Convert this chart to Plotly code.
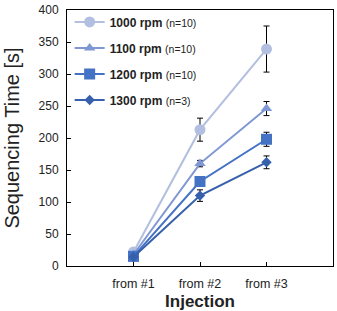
import plotly.graph_objects as go

categories = ["from #1", "from #2", "from #3"]
x_pos = [0, 1, 2]
series_names = ["<b>1000 rpm</b> <span style='font-size:10.5px'>(n=10)</span>",
                "<b>1100 rpm</b> <span style='font-size:10.5px'>(n=10)</span>",
                "<b>1200 rpm</b> <span style='font-size:10.5px'>(n=10)</span>",
                "<b>1300 rpm</b> <span style='font-size:10.5px'>(n=3)</span>"]
rpm1000 = [22, 213, 339]
rpm1100 = [18, 160, 246]
rpm1200 = [15, 132, 198]
rpm1300 = [14, 110, 162]
err1000 = [2, 18, 36]
err1100 = [2, 5, 11]
err1200 = [2, 6, 11]
err1300 = [2, 9, 10]

colors = ["#b3bfe0", "#7f97d2", "#4472c4", "#3760ac"]
symbols = ["circle", "triangle-up", "square", "diamond"]
sizes = [11, 10, 11, 8]

fig = go.Figure()
for i, (name, ys, es) in enumerate(zip(series_names,
                                       [rpm1000, rpm1100, rpm1200, rpm1300],
                                       [err1000, err1100, err1200, err1300])):
    fig.add_trace(go.Scatter(
        x=x_pos, y=ys, name=name, mode="lines+markers",
        legendgroup=f"g{i}",
        line=dict(color=colors[i], width=2),
        marker=dict(symbol=symbols[i], size=sizes[i], color=colors[i]),
        error_y=dict(type="data", array=es, visible=True, color="black",
                     thickness=1, width=3),
    ))

fig.update_layout(
    width=337, height=311,
    margin=dict(l=67, r=4, t=10, b=45),
    paper_bgcolor="white", plot_bgcolor="white",
    font=dict(family="Liberation Sans, Arial, sans-serif", color="#222"),
    showlegend=True,
    legend=dict(x=0.01, y=1.01, xanchor="left", yanchor="top",
                bgcolor="rgba(0,0,0,0)", font=dict(size=12, color="#222"),
                tracegroupgap=7, itemwidth=30),
    xaxis=dict(range=[-1, 3], tickvals=x_pos, ticktext=categories,
               showline=True, linecolor="black", linewidth=1, mirror=True,
               ticks="inside", ticklen=4, tickcolor="black", automargin=False,
               showgrid=False, zeroline=False, ticklabelstandoff=6,
               tickfont=dict(size=12.5, color="#222"),
               title=dict(text="<b>Injection</b>", font=dict(size=17, color="#222"), standoff=10)),
    yaxis=dict(range=[0, 400], dtick=50,
               showline=True, linecolor="black", linewidth=1, mirror=True,
               ticks="inside", ticklen=4, tickcolor="black", automargin=False,
               showgrid=False, zeroline=False, ticklabelstandoff=5,
               tickfont=dict(size=12, color="#222"),
               title=dict(text="Sequencing Time [s]", font=dict(size=20, color="#222"), standoff=13)),
)

fig.write_html("out.html")
